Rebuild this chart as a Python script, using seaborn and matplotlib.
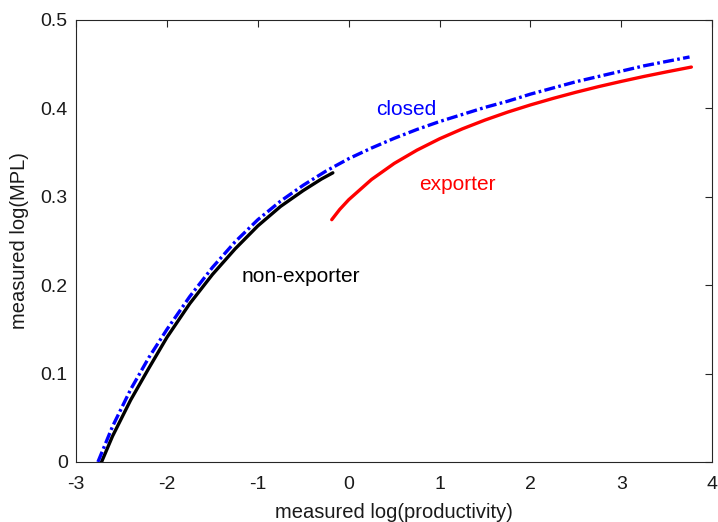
import pandas as pd
import matplotlib
matplotlib.use("Agg")
import matplotlib.pyplot as plt
import seaborn as sns

sns.set_style("white")
plt.rcParams['font.family'] = ['Liberation Sans', 'DejaVu Sans']
plt.rcParams['axes.unicode_minus'] = False

# values
closed_x = [-2.76, -2.6, -2.4, -2.2, -2.0, -1.75, -1.5, -1.25, -1.0, -0.75, -0.5, -0.25,
            0.0, 0.25, 0.5, 0.75, 1.0, 1.25, 1.5, 1.75, 2.0, 2.25, 2.5, 2.75, 3.0, 3.25,
            3.5, 3.75]
closed_y = [0.0, 0.040, 0.082, 0.118, 0.150, 0.187, 0.220, 0.249, 0.274, 0.295, 0.313, 0.329,
            0.343, 0.355, 0.366, 0.376, 0.385, 0.393, 0.401, 0.408, 0.416, 0.423, 0.430,
            0.436, 0.442, 0.448, 0.453, 0.458]

nonexp_x = [-2.72, -2.6, -2.4, -2.2, -2.0, -1.75, -1.5, -1.25, -1.0, -0.75, -0.5, -0.3, -0.175]
nonexp_y = [0.0, 0.029, 0.070, 0.106, 0.141, 0.179, 0.212, 0.241, 0.267, 0.289, 0.307, 0.320,
            0.327]

exp_x = [-0.187, -0.1, 0.0, 0.25, 0.5, 0.75, 1.0, 1.25, 1.5, 1.75, 2.0, 2.25, 2.5, 2.75,
         3.0, 3.25, 3.5, 3.77]
exp_y = [0.274, 0.2855, 0.2966, 0.3194, 0.3376, 0.3526, 0.3655, 0.3767, 0.3867, 0.3957,
         0.4038, 0.4112, 0.4181, 0.4245, 0.4304, 0.436, 0.4412, 0.4466]


def main():
    closed = pd.DataFrame({'x': closed_x, 'y': closed_y})
    nonexp = pd.DataFrame({'x': nonexp_x, 'y': nonexp_y})
    exporter = pd.DataFrame({'x': exp_x, 'y': exp_y})

    fig = plt.figure(figsize=(7.18, 5.22), dpi=100)
    ax = fig.add_axes([0.106, 0.115, 0.886, 0.847])

    sns.lineplot(x='x', y='y', data=nonexp, ax=ax, color='black', linewidth=2.4,
                 sort=False, estimator=None)
    sns.lineplot(x='x', y='y', data=exporter, ax=ax, color='red', linewidth=2.4,
                 sort=False, estimator=None)
    sns.lineplot(x='x', y='y', data=closed, ax=ax, color='blue', linewidth=2.4,
                 linestyle=(0, (3.3, 1, 0.8, 1)), sort=False, estimator=None)

    ax.text(0.30, 0.3925, 'closed', color='blue', fontsize=15, va='baseline')
    ax.text(0.775, 0.308, 'exporter', color='red', fontsize=15, va='baseline')
    ax.text(-1.174, 0.204, 'non-exporter', color='black', fontsize=15, va='baseline')

    ax.set_xlim(-3, 4)
    ax.set_ylim(0, 0.5)
    ax.set_xticks(range(-3, 5))
    ax.set_yticks([0, 0.1, 0.2, 0.3, 0.4, 0.5])
    ax.set_yticklabels(['0', '0.1', '0.2', '0.3', '0.4', '0.5'])
    ax.tick_params(direction='in', length=5, width=0.8, colors='#262626',
                   labelsize=14, top=True, right=True, labelcolor='#1a1a1a')
    ax.tick_params(axis='y', pad=6)
    ax.tick_params(axis='x', pad=10)
    for s in ax.spines.values():
        s.set_color('#262626')
        s.set_linewidth(0.8)

    ax.set_xlabel('measured log(productivity)', fontsize=14.5, va='center', color='#1a1a1a')
    ax.set_ylabel('measured log(MPL)', fontsize=14.5, va='center', color='#1a1a1a')
    ax.xaxis.set_label_coords(0.5, -0.115)
    ax.yaxis.set_label_coords(-0.0896, 0.5)

    fig.savefig('out.png', dpi=100)


if __name__ == '__main__':
    main()
